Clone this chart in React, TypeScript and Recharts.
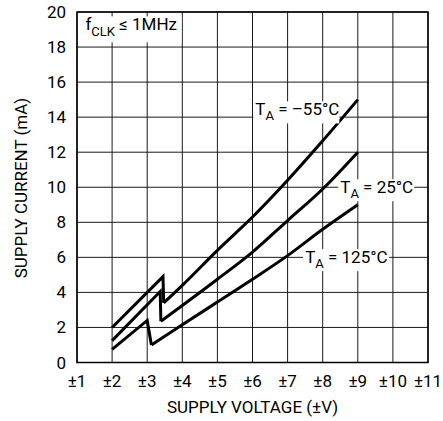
import React from "react";
import {
  LineChart,
  Line,
  XAxis,
  YAxis,
  CartesianGrid,
  ReferenceArea,
  ReferenceDot,
} from "recharts";

const FONT = "Roboto, 'Liberation Sans', sans-serif";

const xTicks = [1, 2, 3, 4, 5, 6, 7, 8, 9, 10, 11];
const yTicks = [0, 2, 4, 6, 8, 10, 12, 14, 16, 18, 20];

// T_A = -55°C
const m55Rise = [
  { v: 2, i: 2.0 },
  { v: 3.45, i: 4.9 },
  { v: 3.47, i: 3.4 },
];
const m55Curve = [
  { v: 3.47, i: 3.4 },
  { v: 4, i: 4.4 },
  { v: 5, i: 6.4 },
  { v: 6, i: 8.3 },
  { v: 7, i: 10.4 },
  { v: 8, i: 12.65 },
  { v: 9, i: 15.0 },
];

// T_A = 25°C
const p25Rise = [
  { v: 2, i: 1.25 },
  { v: 3.37, i: 4.05 },
  { v: 3.39, i: 2.35 },
];
const p25Curve = [
  { v: 3.39, i: 2.35 },
  { v: 4, i: 3.25 },
  { v: 5, i: 4.75 },
  { v: 6, i: 6.3 },
  { v: 7, i: 8.1 },
  { v: 8, i: 9.9 },
  { v: 9, i: 12.0 },
];

// T_A = 125°C
const p125Rise = [
  { v: 2, i: 0.75 },
  { v: 3.0, i: 2.4 },
  { v: 3.12, i: 1.0 },
];
const p125Curve = [
  { v: 3.12, i: 1.0 },
  { v: 4, i: 2.15 },
  { v: 5, i: 3.45 },
  { v: 6, i: 4.75 },
  { v: 7, i: 6.1 },
  { v: 8, i: 7.6 },
  { v: 9, i: 9.0 },
];

// label anchors (text start, baseline) in data units
const seriesLabels = [
  { v: 6.08, i: 14.1, temp: "–55°C", w: 84 },
  { v: 8.5, i: 9.66, temp: "25°C", w: 74 },
  { v: 7.5, i: 5.67, temp: "125°C", w: 84 },
];

const tickStyle = { fontSize: 17, fill: "#000", fontFamily: FONT };

function TempLabel(props: any) {
  const { viewBox, temp, w } = props;
  const x = viewBox.x + viewBox.width / 2;
  const y = viewBox.y + viewBox.height / 2;
  return (
    <g>
      <rect x={x - 2} y={y - 14} width={w + 2} height={22} fill="#fff" />
      <text x={x} y={y} fontFamily={FONT} fontSize={17} fill="#000">
        <tspan>T</tspan>
        <tspan fontSize={13} dy={5}>A</tspan>
        <tspan dy={-5}>{" = " + temp}</tspan>
      </text>
    </g>
  );
}

function ClkLabel(props: any) {
  const { viewBox } = props;
  const x = viewBox.x + viewBox.width / 2;
  const y = viewBox.y + viewBox.height / 2;
  return (
    <g>
      <rect x={x - 3} y={y - 14} width={99} height={26} fill="#fff" />
      <text x={x} y={y} fontFamily={FONT} fontSize={17} fill="#000">
        <tspan>f</tspan>
        <tspan fontSize={13} dy={6}>CLK</tspan>
        <tspan dy={-6}>{" ≤ 1MHz"}</tspan>
      </text>
    </g>
  );
}

export default function App() {
  return (
    <div style={{ position: "absolute", left: 0, top: 0, background: "#fff" }}>
      <LineChart
        width={443}
        height={421}
        margin={{ top: 12, right: 15, bottom: 0, left: 0 }}
      >
        <CartesianGrid stroke="#1a1a1a" strokeWidth={1} />
        <XAxis
          type="number"
          dataKey="v"
          domain={[1, 11]}
          ticks={xTicks}
          tickFormatter={(v: number) => `±${v}`}
          axisLine={false}
          tickLine={false}
          tickSize={0}
          tickMargin={12}
          height={58.5}
          tick={tickStyle}
          interval={0}
          allowDataOverflow
          label={{
            value: "SUPPLY VOLTAGE (±V)",
            position: "insideBottom",
            offset: 8,
            style: { fontSize: 17, fill: "#000", fontFamily: FONT },
          }}
        />
        <YAxis
          type="number"
          dataKey="i"
          domain={[0, 20]}
          ticks={yTicks}
          axisLine={false}
          tickLine={false}
          tickSize={0}
          tickMargin={11}
          width={77}
          tick={tickStyle}
          interval={0}
          allowDataOverflow
          label={{
            content: () => (
              <text
                x={21}
                y={188}
                transform="rotate(-90, 21, 188)"
                textAnchor="middle"
                dominantBaseline="central"
                fontFamily={FONT}
                fontSize={17}
                fill="#000"
              >
                SUPPLY CURRENT (mA)
              </text>
            ),
          }}
        />
        <ReferenceArea
          x1={1}
          x2={11}
          y1={0}
          y2={20}
          fill="none"
          stroke="#000"
          strokeWidth={1.5}
          fillOpacity={0}
        />
        {seriesLabels.map((s) => (
          <ReferenceDot
            key={s.temp}
            x={s.v}
            y={s.i}
            r={1}
            fill="none"
            stroke="none"
            label={<TempLabel temp={s.temp} w={s.w} />}
          />
        ))}
        <ReferenceDot
          x={1.24}
          y={18.95}
          r={1}
          fill="none"
          stroke="none"
          label={<ClkLabel />}
        />
        {[m55Rise, p25Rise, p125Rise].map((d, k) => (
          <Line
            key={"r" + k}
            data={d}
            dataKey="i"
            type="linear"
            stroke="#000"
            strokeWidth={3}
            strokeLinejoin="miter"
            dot={false}
            isAnimationActive={false}
          />
        ))}
        {[m55Curve, p25Curve, p125Curve].map((d, k) => (
          <Line
            key={"c" + k}
            data={d}
            dataKey="i"
            type="monotone"
            stroke="#000"
            strokeWidth={3}
            dot={false}
            isAnimationActive={false}
          />
        ))}
      </LineChart>
    </div>
  );
}
